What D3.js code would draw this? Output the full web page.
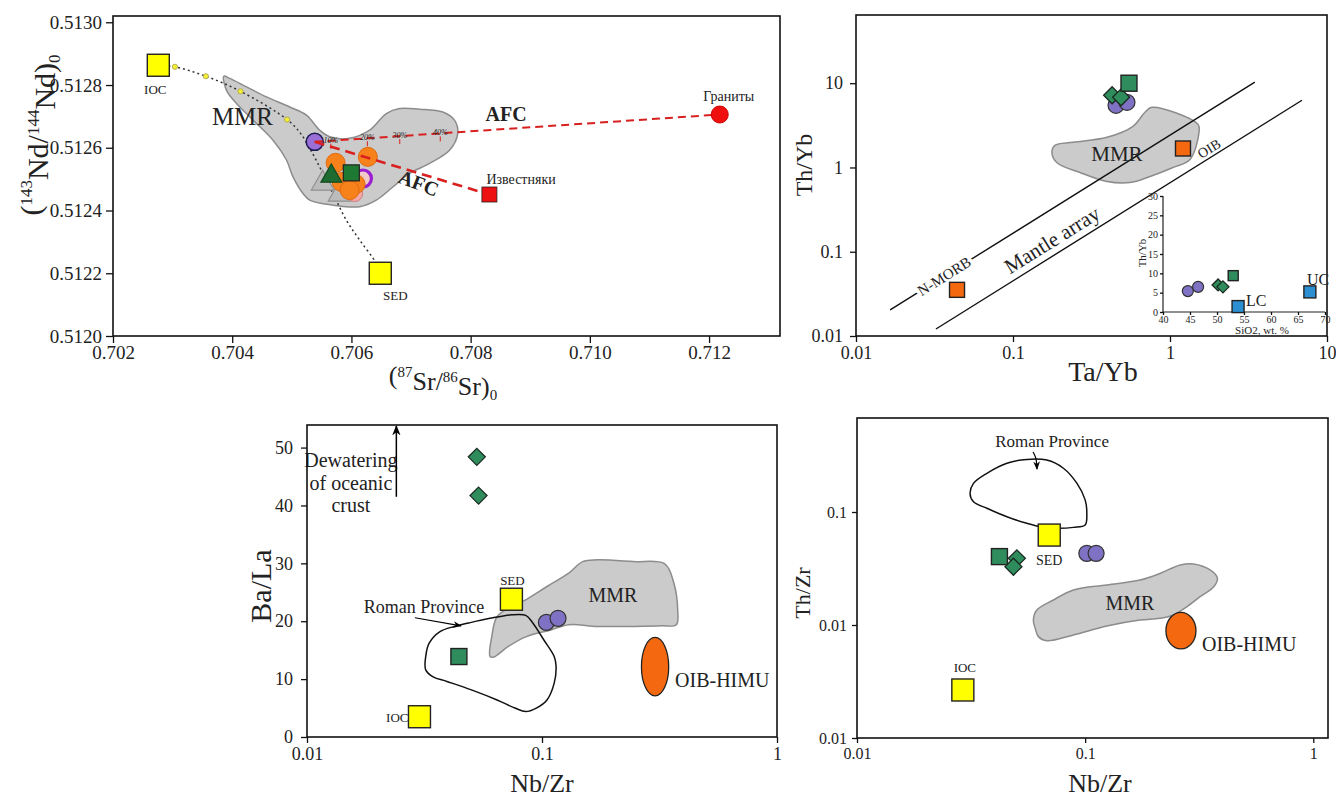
<!DOCTYPE html>
<html lang="en">
<head>
<meta charset="utf-8">
<title>Sr-Nd and trace element diagrams</title>
<script src="https://cdn.jsdelivr.net/npm/d3@7/dist/d3.min.js"></script>
<style>
  body { margin: 0; background: #fff; }
  svg text { font-family: "Liberation Serif", "Times New Roman", Times, "DejaVu Serif", serif !important; fill: #222; }
</style>
</head>
<body>
<script>
// ---------- panel A : (87Sr/86Sr)0 vs (143Nd/144Nd)0 ----------
var srTicks = [0.702, 0.704, 0.706, 0.708, 0.710, 0.712];
var ndTicks = [0.5120, 0.5122, 0.5124, 0.5126, 0.5128, 0.5130];
var mmrA = [[0.703859,0.512828],[0.703960,0.512821],[0.704240,0.512794],[0.704575,0.512762],
  [0.704965,0.512730],[0.705245,0.512704],[0.705467,0.512656],[0.705635,0.512635],[0.705970,0.512630],
  [0.706305,0.512656],[0.706585,0.512709],[0.706807,0.512725],[0.707142,0.512723],[0.707533,0.512714],
  [0.707729,0.512688],[0.707784,0.512646],[0.707645,0.512592],[0.707310,0.512550],[0.706975,0.512518],
  [0.706695,0.512475],[0.706417,0.512433],[0.706137,0.512412],[0.705690,0.512417],[0.705300,0.512433],
  [0.705188,0.512454],[0.705020,0.512507],[0.704910,0.512561],[0.704685,0.512624],[0.704350,0.512688],
  [0.704072,0.512741],[0.703905,0.512783]];
var iocA = [0.70276, 0.512863];
var sedA = [0.706484, 0.512200];
var mixDots = [[0.703039,0.512858],[0.703558,0.512828],[0.704139,0.512780],[0.704920,0.512690]];
var mixTail = [[0.705149,0.512645],[0.705467,0.512539],[0.705690,0.512454],[0.705915,0.512369],
  [0.706137,0.512306],[0.706417,0.512232]];
var purpleA = [0.705384, 0.512619];
var ringA = [0.706193, 0.512502];
var orangeA = [[0.705735,0.512552],[0.706276,0.512571],[0.705836,0.512491],[0.706070,0.512484],[0.705970,0.512465]];
var pinkA = [[0.706054,0.512454]];
var grayTriA = [[0.705518,0.512490],[0.705802,0.512455]];
var greenTriA = [[0.705663,0.512513]];
var greenSqA = [[0.705998,0.512520]];
var granite = [0.712179, 0.512706];
var limestone = [0.708315, 0.512451];
var afcPct = ["10%", "20%", "30%", "40%"];
var afcPctT = [0.04, 0.13, 0.21, 0.31];

// ---------- panel B : Ta/Yb vs Th/Yb ----------
var tayTicks = [0.01, 0.1, 1, 10];
var thybTicks = [0.01, 0.1, 1, 10];
var nmorbLine = [[0.0165, 0.0204], [3.47, 10.3]];
var mantleLine = [[0.0323, 0.0121], [6.93, 6.28]];
var mmrB = [[0.767,5.18],[1.51,3.25],[1.53,2.61],[1.34,1.245],[1.045,1.0],[0.746,0.782],[0.556,0.662],
  [0.397,0.681],[0.267,0.871],[0.190,1.147],[0.177,1.51],[0.185,1.83],[0.241,1.99],[0.397,2.28],
  [0.581,3.08],[0.693,4.52]];
var purpleB = [[0.453, 5.47], [0.532, 5.94]];
var diamondB = [[0.428, 7.2], [0.488, 6.8]];
var greenSqB = [[0.548, 10.0]];
var oibB = [1.21, 1.68];
var nmorbB = [0.044, 0.0353];
// inset: SiO2 vs Th/Yb
var sio2Ticks = [40, 45, 50, 55, 60, 65, 70];
var insetYTicks = [0, 5, 10, 15, 20, 25, 30];
var insetPurple = [[44.6, 5.4], [46.5, 6.5]];
var insetDiamond = [[50.2, 7.0], [51.1, 6.5]];
var insetSquare = [[53.0, 9.4]];
var insetLC = [53.9, 1.4];
var insetUC = [67.2, 5.2];

// ---------- panel C : Nb/Zr vs Ba/La ----------
var nbzrTicksC = [0.01, 0.1, 1];
var balaTicks = [0, 10, 20, 30, 40, 50];
var mmrC = [[0.0601,13.9],[0.0611,17.3],[0.0644,20.8],[0.0741,22.5],[0.0853,23.7],[0.105,26.0],
  [0.130,28.3],[0.149,30.3],[0.172,30.6],[0.244,30.3],[0.333,29.9],[0.364,26.6],[0.378,21.9],
  [0.373,19.4],[0.322,19.2],[0.244,19.1],[0.172,19.1],[0.130,19.4],[0.109,18.5],[0.0853,17.3],
  [0.0716,15.6],[0.0622,13.8]];
var romanC = [[0.0320,13.9],[0.0331,16.2],[0.0368,18.2],[0.0424,19.1],[0.0488,19.7],[0.0601,20.5],
  [0.0741,21.1],[0.0853,21.0],[0.0914,19.7],[0.1017,16.8],[0.1127,13.9],[0.1148,12.2],[0.1127,9.3],
  [0.105,6.4],[0.0946,5.0],[0.0853,4.4],[0.0767,5.0],[0.0644,6.4],[0.0504,8.1],[0.0394,9.6],
  [0.0344,10.4],[0.0320,11.6]];
var diamondC = [[0.0528, 48.4], [0.0537, 41.7]];
var greenSqC = [[0.0443, 13.9]];
var sedC = [0.0741, 23.8];
var iocC = [0.0301, 3.5];
var purpleC = [[0.1044, 19.8], [0.117, 20.5]];
var oibHimuC = [[0.265, 7.1], [0.346, 17.2]];
var dewatering = ["Dewatering", "of oceanic", "crust"];

// ---------- panel D : Nb/Zr vs Th/Zr ----------
var nbzrTicksD = [0.01, 0.1, 1];
var thzrTicks = [0.1, 0.01, 0.001];
var thzrLabels = ["0.1", "0.01", "0.01"];
var romanD = [[0.0313,0.146],[0.0324,0.179],[0.0371,0.220],[0.0454,0.270],[0.0555,0.292],[0.0679,0.288],
  [0.0803,0.244],[0.0921,0.179],[0.1,0.128],[0.1017,0.0973],[0.1,0.0767],[0.0889,0.0731],[0.0752,0.0717],
  [0.0636,0.0741],[0.0555,0.0794],[0.0454,0.0908],[0.0371,0.108],[0.0324,0.123]];
var mmrD = [[0.0593,0.01107],[0.0614,0.01358],[0.0726,0.01664],[0.0889,0.0204],[0.1245,0.0226],
  [0.174,0.0250],[0.213,0.0286],[0.261,0.0340],[0.299,0.0347],[0.353,0.0307],[0.380,0.0259],
  [0.366,0.0218],[0.319,0.0178],[0.279,0.0145],[0.244,0.01225],[0.213,0.01146],[0.174,0.01107],
  [0.1245,0.0098],[0.0889,0.00817],[0.0679,0.00726],[0.0624,0.00789],[0.0604,0.00935]];
var sedD = [0.0696, 0.0625];
var iocD = [0.0291, 0.00266];
var greenSqD = [[0.0421, 0.0403]];
var diamondD = [[0.0502, 0.0389], [0.0485, 0.0328]];
var purpleD = [[0.1017, 0.0431], [0.1117, 0.0431]];
var oibHimuD = [[0.226, 0.00614], [0.306, 0.01293]];

// ---------- colours ----------
var cYellow = "#ffff00", cGreen = "#2f8c5c", cPurple = "#7f72c4", cOrange = "#f4680f",
    cBlue = "#2b8fd2", cMMR = "#cbcbcb", cMMRline = "#8c8c8c", cRed = "#d8201f";
var serif = "'Liberation Serif', 'Times New Roman', Times, 'DejaVu Serif', serif";

var svg = d3.select("body").append("svg").attr("width", 1336).attr("height", 800)
  .attr("font-family", serif);
var defs = svg.append("defs");
defs.append("marker").attr("id", "arr").attr("viewBox", "0 0 10 10").attr("refX", 9).attr("refY", 5)
  .attr("markerWidth", 7).attr("markerHeight", 7).attr("orient", "auto")
  .append("path").attr("d", "M0,1 L10,5 L0,9 L3,5 Z").attr("fill", "#000");

// marker helpers
function square(g, cx, cy, s, fill, sw) {
  g.append("rect").attr("x", cx - s / 2).attr("y", cy - s / 2).attr("width", s).attr("height", s)
    .attr("fill", fill).attr("stroke", "#222").attr("stroke-width", sw || 1.4);
}
function dot(g, cx, cy, r, fill, stroke, sw) {
  g.append("circle").attr("cx", cx).attr("cy", cy).attr("r", r)
    .attr("fill", fill).attr("stroke", stroke || "#333").attr("stroke-width", sw || 1.2);
}
function diamond(g, cx, cy, s, fill) {
  g.append("path").attr("d", "M" + cx + "," + (cy - s) + "L" + (cx + s) + "," + cy + "L" + cx + "," + (cy + s) + "L" + (cx - s) + "," + cy + "Z")
    .attr("fill", fill).attr("stroke", "#1c2b22").attr("stroke-width", 1.3);
}
function triangle(g, cx, cy, s, fill, stroke) {
  g.append("path").attr("d", "M" + cx + "," + (cy - s) + "L" + (cx + s * 0.95) + "," + (cy + s * 0.65) + "L" + (cx - s * 0.95) + "," + (cy + s * 0.65) + "Z")
    .attr("fill", fill).attr("stroke", stroke).attr("stroke-width", 1.2);
}
function axes(g, x, y, xt, yt, xfmt, yfmt, fs, opts) {
  opts = opts || {};
  var xr = x.range(), yr = y.range();
  var ax = g.append("g").attr("transform", "translate(0," + yr[0] + ")")
    .call(d3.axisBottom(x).tickValues(xt).tickFormat(xfmt).tickSize(opts.ts || 6).tickSizeOuter(0).tickPadding(opts.xp || 4));
  var ay = g.append("g").attr("transform", "translate(" + xr[0] + ",0)")
    .call(d3.axisLeft(y).tickValues(yt).tickFormat(yfmt).tickSize(opts.ts || 6).tickSizeOuter(0).tickPadding(opts.yp || 6));
  [ax, ay].forEach(function (a) {
    a.attr("font-family", serif).attr("font-size", fs);
    a.select(".domain").remove();
    a.selectAll(".tick line").attr("stroke", "#111").attr("stroke-width", 1.3);
    a.selectAll(".tick text").attr("fill", "#222");
  });
  if (!opts.noFrame) {
    g.append("rect").attr("x", xr[0]).attr("y", yr[1]).attr("width", xr[1] - xr[0]).attr("height", yr[0] - yr[1])
      .attr("fill", "none").attr("stroke", "#111").attr("stroke-width", 1.6);
  }
}
function label(g, x, y, str, fs, anchor) {
  return g.append("text").attr("x", x).attr("y", y).attr("text-anchor", anchor || "middle")
    .attr("font-family", serif).style("font-size", fs + "px").text(str);
}
var smooth = d3.curveCatmullRomClosed.alpha(0.5);

// ================= panel A =================
var gA = svg.append("g");
var xA = d3.scaleLinear().domain([0.702, 0.71319]).range([113, 780]);
var yA = d3.scaleLinear().domain([0.5120, 0.51302]).range([336, 16]);
var lnA = d3.line().x(function (d) { return xA(d[0]); }).y(function (d) { return yA(d[1]); });

gA.append("path").attr("d", lnA.curve(smooth)(mmrA)).attr("fill", cMMR).attr("stroke", cMMRline).attr("stroke-width", 1.5);
gA.append("path").attr("d", d3.line().x(function (d) { return xA(d[0]); }).y(function (d) { return yA(d[1]); })
    .curve(d3.curveCatmullRom)([iocA].concat(mixDots, mixTail, [sedA])))
  .attr("fill", "none").attr("stroke", "#333").attr("stroke-width", 1.5).attr("stroke-dasharray", "2,3");
mixDots.forEach(function (d) { dot(gA, xA(d[0]), yA(d[1]), 2.6, "#f4f03a", "#a8a040", 0.8); });
square(gA, xA(iocA[0]), yA(iocA[1]), 22, cYellow);
square(gA, xA(sedA[0]), yA(sedA[1]), 22, cYellow);

grayTriA.forEach(function (d) { triangle(gA, xA(d[0]), yA(d[1]), 12, "#bcbcbc", "#8f8f8f"); });
dot(gA, xA(ringA[0]), yA(ringA[1]), 8.5, "#f2c9c9", "#9b1fd0", 3.2);
pinkA.forEach(function (d) { dot(gA, xA(d[0]), yA(d[1]), 8, "#f3a9a9", "#d27a7a", 1); });
orangeA.forEach(function (d) { dot(gA, xA(d[0]), yA(d[1]), 9.5, "#f7821b", "#e06a10", 1); });
greenTriA.forEach(function (d) { triangle(gA, xA(d[0]), yA(d[1]), 11, "#1d6b30", "#134a20"); });
greenSqA.forEach(function (d) { square(gA, xA(d[0]), yA(d[1]), 16, "#1e7a32", 1.2); });
dot(gA, xA(purpleA[0]), yA(purpleA[1]), 8.5, "#9a6fd8", "#1f1b55", 1.6);

// AFC curves
var p0 = [xA(purpleA[0]), yA(purpleA[1])], pG = [xA(granite[0]), yA(granite[1])], pL = [xA(limestone[0]), yA(limestone[1])];
gA.append("line").attr("x1", p0[0]).attr("y1", p0[1]).attr("x2", pG[0]).attr("y2", pG[1])
  .attr("stroke", cRed).attr("stroke-width", 2).attr("stroke-dasharray", "8,5");
gA.append("line").attr("x1", p0[0]).attr("y1", p0[1]).attr("x2", pL[0]).attr("y2", pL[1])
  .attr("stroke", cRed).attr("stroke-width", 2.6).attr("stroke-dasharray", "10,6");
afcPct.forEach(function (s, i) {
  var t = afcPctT[i], px = p0[0] + (pG[0] - p0[0]) * t, py = p0[1] + (pG[1] - p0[1]) * t;
  label(gA, px, py + 2, s, 8).style("font-style", "italic").attr("fill", cRed);
  gA.append("line").attr("x1", px).attr("y1", py + 3).attr("x2", px).attr("y2", py + 8).attr("stroke", cRed).attr("stroke-width", 1);
});
dot(gA, pG[0], pG[1], 8.5, "#f00f0f", "#c00", 1);
square(gA, pL[0], pL[1], 15, "#ee1111", 0.8);

label(gA, pG[0] + 9, pG[1] - 14, "Граниты", 14);
label(gA, pL[0] - 3, pL[1] - 11, "Известняки", 14, "start");
label(gA, xA(0.708595), yA(0.512685), "AFC", 20).attr("fill", cRed).style("font-weight", "bold");
label(gA, 0, 0, "AFC", 20).attr("fill", cRed).style("font-weight", "bold")
  .attr("transform", "translate(" + xA(0.707087) + "," + (yA(0.512486) + 6) + ") rotate(21)");
label(gA, xA(0.704172), yA(0.512672), "MMR", 25).attr("fill", "#333");
label(gA, xA(iocA[0]) - 3, yA(iocA[1]) + 29, "IOC", 13);
label(gA, xA(sedA[0]) + 15, yA(sedA[1]) + 27, "SED", 13);

axes(gA, xA, yA, srTicks, ndTicks, d3.format(".3f"), d3.format(".4f"), 19, { ts: 7, xp: 3, yp: 4 });
var tA = label(gA, 0, 0, "", 30).attr("transform", "translate(41,135) rotate(-90)");
tA.append("tspan").text("(");
tA.append("tspan").attr("dy", "-0.55em").style("font-size", "17px").text("143");
tA.append("tspan").attr("dy", "0.55em").text("Nd/");
tA.append("tspan").attr("dy", "-0.55em").style("font-size", "17px").text("144");
tA.append("tspan").attr("dy", "0.55em").text("Nd)");
tA.append("tspan").attr("dy", "0.3em").style("font-size", "17px").text("0");
var tA2 = label(gA, 443, 384, "", 26);
tA2.append("tspan").text("(");
tA2.append("tspan").attr("dy", "-0.5em").style("font-size", "15px").text("87");
tA2.append("tspan").attr("dy", "0.5em").text("Sr/");
tA2.append("tspan").attr("dy", "-0.5em").style("font-size", "15px").text("86");
tA2.append("tspan").attr("dy", "0.5em").text("Sr)");
tA2.append("tspan").attr("dy", "0.3em").style("font-size", "15px").text("0");

// ================= panel B =================
var gB = svg.append("g");
var xB = d3.scaleLog().domain([0.01, 10]).range([856, 1327]);
var yB = d3.scaleLog().domain([0.01, 64.5]).range([336, 15]);
var lnB = d3.line().x(function (d) { return xB(d[0]); }).y(function (d) { return yB(d[1]); });

gB.append("path").attr("d", lnB.curve(smooth)(mmrB)).attr("fill", cMMR).attr("stroke", cMMRline).attr("stroke-width", 1.5);
gB.append("path").attr("d", d3.line().x(function (d) { return xB(d[0]); }).y(function (d) { return yB(d[1]); })(nmorbLine))
  .attr("stroke", "#111").attr("stroke-width", 1.4);
gB.append("path").attr("d", d3.line().x(function (d) { return xB(d[0]); }).y(function (d) { return yB(d[1]); })(mantleLine))
  .attr("stroke", "#111").attr("stroke-width", 1.4);
var ang = Math.atan2(yB(nmorbLine[1][1]) - yB(nmorbLine[0][1]), xB(nmorbLine[1][0]) - xB(nmorbLine[0][0])) * 180 / Math.PI;
var nmx = xB(nmorbLine[0][0]) + (xB(nmorbLine[1][0]) - xB(nmorbLine[0][0])) * 0.148;
var nmy = yB(nmorbLine[0][1]) + (yB(nmorbLine[1][1]) - yB(nmorbLine[0][1])) * 0.148;
label(gB, 0, 0, "N-MORB", 15).attr("transform", "translate(" + nmx + "," + nmy + ") rotate(" + ang + ")").attr("dy", "0.35em")
  .attr("stroke", "#fff").attr("stroke-width", 7).style("paint-order", "stroke");
label(gB, 0, 0, "Mantle array", 21).attr("transform", "translate(" + xB(0.177) + "," + yB(0.139) + ") rotate(" + ang + ")").attr("dy", "0.35em");
label(gB, xB(0.459), yB(1.18), "MMR", 21).attr("fill", "#333");

purpleB.forEach(function (d) { dot(gB, xB(d[0]), yB(d[1]), 8, cPurple, "#333"); });
diamondB.forEach(function (d) { diamond(gB, xB(d[0]), yB(d[1]), 8.5, cGreen); });
greenSqB.forEach(function (d) { square(gB, xB(d[0]), yB(d[1]), 16, cGreen); });
square(gB, xB(oibB[0]), yB(oibB[1]), 15, cOrange);
square(gB, xB(nmorbB[0]), yB(nmorbB[1]), 15, cOrange);
label(gB, 0, 0, "OIB", 14).attr("transform", "translate(" + (xB(oibB[0]) + 26) + "," + yB(oibB[1]) + ") rotate(" + ang + ")").attr("dy", "0.35em");

axes(gB, xB, yB, tayTicks, thybTicks, d3.format(""), d3.format(""), 18, { ts: 6, xp: 4, yp: 7 });
label(gB, 1103, 381, "Ta/Yb", 28);
label(gB, 0, 0, "Th/Yb", 24).attr("transform", "translate(812,165) rotate(-90)");

// inset
var xI = d3.scaleLinear().domain([40, 70]).range([1163, 1325]);
var yI = d3.scaleLinear().domain([0, 30]).range([312, 196]);
var gI = gB.append("g");
gI.append("line").attr("x1", xI(40)).attr("x2", xI(40)).attr("y1", yI(0)).attr("y2", yI(30)).attr("stroke", "#222").attr("stroke-width", 1.2);
gI.append("line").attr("x1", xI(40)).attr("x2", xI(70)).attr("y1", yI(0)).attr("y2", yI(0)).attr("stroke", "#222").attr("stroke-width", 1.2);
axes(gI, xI, yI, sio2Ticks, insetYTicks, d3.format(""), d3.format(""), 10, { ts: 3, xp: 1, yp: 2, noFrame: true });
gI.selectAll(".tick text").attr("fill", "#444");
insetPurple.forEach(function (d) { dot(gI, xI(d[0]), yI(d[1]), 5.5, cPurple, "#333"); });
insetDiamond.forEach(function (d) { diamond(gI, xI(d[0]), yI(d[1]), 6, cGreen); });
insetSquare.forEach(function (d) { square(gI, xI(d[0]), yI(d[1]), 10, cGreen); });
square(gI, xI(insetLC[0]), yI(insetLC[1]), 12, cBlue);
square(gI, xI(insetUC[0]), yI(insetUC[1]), 12, cBlue);
label(gI, xI(insetLC[0]) + 8, yI(insetLC[1]) - 1, "LC", 16, "start");
label(gI, xI(insetUC[0]) - 3, yI(insetUC[1]) - 7, "UC", 16, "start");
label(gI, 1262, 334, "SiO2, wt. %", 11).attr("fill", "#444");
label(gI, 0, 0, "Th/Yb", 11).attr("fill", "#444").attr("transform", "translate(1146,253) rotate(-90)");

// ================= panel C =================
var gC = svg.append("g");
var xC = d3.scaleLog().domain([0.01, 1]).range([307, 777]);
var yC = d3.scaleLinear().domain([0, 53.9]).range([737, 425]);
var lnC = d3.line().x(function (d) { return xC(d[0]); }).y(function (d) { return yC(d[1]); });

gC.append("path").attr("d", lnC.curve(smooth)(mmrC)).attr("fill", cMMR).attr("stroke", cMMRline).attr("stroke-width", 1.5);
gC.append("path").attr("d", lnC.curve(smooth)(romanC)).attr("fill", "none").attr("stroke", "#111").attr("stroke-width", 1.5);
var eC = [xC(oibHimuC[0][0]), yC(oibHimuC[0][1]), xC(oibHimuC[1][0]), yC(oibHimuC[1][1])];
gC.append("ellipse").attr("cx", (eC[0] + eC[2]) / 2).attr("cy", (eC[1] + eC[3]) / 2)
  .attr("rx", Math.abs(eC[2] - eC[0]) / 2).attr("ry", Math.abs(eC[3] - eC[1]) / 2)
  .attr("fill", cOrange).attr("stroke", "#222").attr("stroke-width", 1.3);
diamondC.forEach(function (d) { diamond(gC, xC(d[0]), yC(d[1]), 8.5, cGreen); });
greenSqC.forEach(function (d) { square(gC, xC(d[0]), yC(d[1]), 16, cGreen); });
square(gC, xC(sedC[0]), yC(sedC[1]), 22, cYellow);
square(gC, xC(iocC[0]), yC(iocC[1]), 22, cYellow);
purpleC.forEach(function (d) { dot(gC, xC(d[0]), yC(d[1]), 8, cPurple, "#333"); });

label(gC, xC(sedC[0]) + 1, yC(sedC[1]) - 14, "SED", 13);
label(gC, xC(iocC[0]) - 11, yC(iocC[1]) + 5, "IOC", 13, "end");
label(gC, xC(0.2004), yC(23.3), "MMR", 20).attr("fill", "#333");
label(gC, (eC[0] + eC[2]) / 2 + 20, (eC[1] + eC[3]) / 2 + 20, "OIB-HIMU", 20, "start");
label(gC, xC(0.0315), yC(21.4), "Roman Province", 18);
gC.append("line").attr("x1", xC(0.0288)).attr("y1", yC(20.6)).attr("x2", xC(0.0452)).attr("y2", yC(19.2))
  .attr("stroke", "#000").attr("stroke-width", 1.2).attr("marker-end", "url(#arr)");
var dwY = [46.7, 42.7, 38.9];
dewatering.forEach(function (s, i) { label(gC, xC(0.01538), yC(dwY[i]), s, 20); });
gC.append("line").attr("x1", xC(0.024)).attr("y1", yC(41.5)).attr("x2", xC(0.024)).attr("y2", yC(53.9) + 1)
  .attr("stroke", "#000").attr("stroke-width", 1.5).attr("marker-end", "url(#arr)");

axes(gC, xC, yC, nbzrTicksC, balaTicks, d3.format(""), d3.format(""), 18, { ts: 6, xp: 4, yp: 8 });
label(gC, 542, 792, "Nb/Zr", 26);
label(gC, 0, 0, "Ba/La", 30).attr("transform", "translate(271,586) rotate(-90)");

// ================= panel D =================
var gD = svg.append("g");
var xD = d3.scaleLog().domain([0.01, 1.16]).range([857, 1328]);
var yD = d3.scaleLog().domain([0.001, 0.679]).range([738, 418]);
var lnD = d3.line().x(function (d) { return xD(d[0]); }).y(function (d) { return yD(d[1]); });

gD.append("path").attr("d", lnD.curve(smooth)(mmrD)).attr("fill", cMMR).attr("stroke", cMMRline).attr("stroke-width", 1.5);
gD.append("path").attr("d", lnD.curve(smooth)(romanD)).attr("fill", "none").attr("stroke", "#111").attr("stroke-width", 1.5);
var eD = [xD(oibHimuD[0][0]), yD(oibHimuD[0][1]), xD(oibHimuD[1][0]), yD(oibHimuD[1][1])];
gD.append("ellipse").attr("cx", (eD[0] + eD[2]) / 2).attr("cy", (eD[1] + eD[3]) / 2)
  .attr("rx", Math.abs(eD[2] - eD[0]) / 2).attr("ry", Math.abs(eD[3] - eD[1]) / 2)
  .attr("fill", cOrange).attr("stroke", "#222").attr("stroke-width", 1.3);
square(gD, xD(sedD[0]), yD(sedD[1]), 22, cYellow);
square(gD, xD(iocD[0]), yD(iocD[1]), 22, cYellow);
greenSqD.forEach(function (d) { square(gD, xD(d[0]), yD(d[1]), 16, cGreen); });
diamondD.forEach(function (d) { diamond(gD, xD(d[0]), yD(d[1]), 8.5, cGreen); });
purpleD.forEach(function (d) { dot(gD, xD(d[0]), yD(d[1]), 8, cPurple, "#333"); });

label(gD, xD(sedD[0]), yD(sedD[1]) + 30, "SED", 14);
label(gD, xD(iocD[0]) + 2, yD(iocD[1]) - 18, "IOC", 13);
label(gD, xD(0.157), yD(0.01359), "MMR", 20).attr("fill", "#333");
label(gD, (eD[0] + eD[2]) / 2 + 21, (eD[1] + eD[3]) / 2 + 20, "OIB-HIMU", 20, "start");
label(gD, xD(0.0716), yD(0.376), "Roman Province", 17);
gD.append("path").attr("d", d3.line().curve(d3.curveBasis)([[xD(0.0591), yD(0.340)], [xD(0.0612), yD(0.300)], [xD(0.0615), yD(0.240)]]))
  .attr("fill", "none").attr("stroke", "#000").attr("stroke-width", 1.2).attr("marker-end", "url(#arr)");

axes(gD, xD, yD, nbzrTicksD, thzrTicks, d3.format(""), function (d, i) { return thzrLabels[i]; }, 16, { ts: 5, xp: 5, yp: 5 });
label(gD, 1100, 792, "Nb/Zr", 26);
label(gD, 0, 0, "Th/Zr", 22).attr("transform", "translate(810,593) rotate(-90)");
</script>
</body>
</html>
